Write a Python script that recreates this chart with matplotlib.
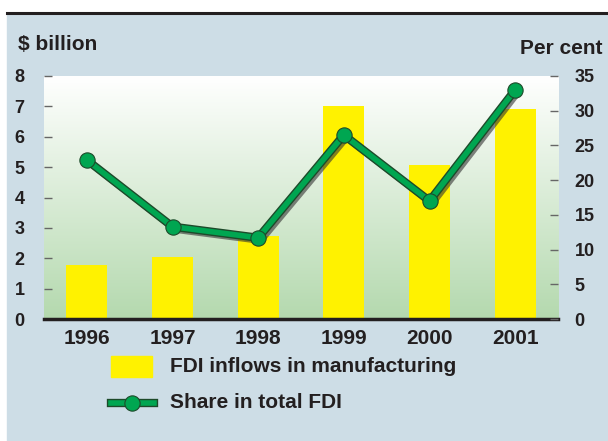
import numpy as np
import matplotlib.pyplot as plt
import matplotlib.patheffects as pe
from matplotlib.patches import Rectangle
from matplotlib.lines import Line2D
from matplotlib.colors import LinearSegmentedColormap

# Datos
years = ['1996', '1997', '1998', '1999', '2000', '2001']
fdi_manuf = [1.78, 2.04, 2.73, 7.0, 5.07, 6.9]      # $ billion
share_total = [22.9, 13.3, 11.7, 26.5, 17.0, 33.0]   # per cent

plt.rcParams['font.family'] = ['Liberation Sans', 'DejaVu Sans']
plt.rcParams['font.weight'] = 'bold'

W, H = 608, 441
fig = plt.figure(figsize=(W / 100, H / 100), dpi=100, facecolor='white')

bg = '#cddde6'
dark = '#231f20'
green = '#00a651'
edge = '#1d4a2a'
fig.patches.append(Rectangle((7 / W, 0), 1 - 7 / W, 1 - 14 / H,
                             transform=fig.transFigure, color=bg, zorder=-5))
fig.lines.append(Line2D([7 / W, 1], [1 - 13 / H, 1 - 13 / H],
                        transform=fig.transFigure, color=dark, lw=2.2))

ax = fig.add_axes([44 / W, 1 - 319 / H, 514 / W, 243 / H])
ax.set_xlim(-0.5, 5.5)
ax.set_ylim(0, 8)
ax.patch.set_alpha(0)

# degradado blanco -> verde
grad = np.linspace(0, 1, 256).reshape(-1, 1)
cmap = LinearSegmentedColormap.from_list('g', ['#b4d9ae', '#ffffff'])
ax.imshow(grad, extent=[-0.5, 5.5, 0, 8], origin='lower', aspect='auto',
          cmap=cmap, zorder=0)

x = np.arange(len(years))
ax.bar(x, fdi_manuf, width=0.48, color='#fff200', zorder=2)

for s in ['top', 'left', 'right']:
    ax.spines[s].set_visible(False)
ax.spines['bottom'].set_color(dark)
ax.spines['bottom'].set_linewidth(2.5)
ax.spines['bottom'].set_zorder(5)

ax.set_xticks(x)
ax.set_xticklabels(years, fontsize=15, fontweight='bold', color=dark)
ax.tick_params(axis='x', length=0, pad=7)
ax.set_yticks(range(0, 9))
ax.tick_params(axis='y', direction='in', length=6, width=1, color='#666666',
               labelsize=13, labelcolor=dark, pad=14)

ax2 = ax.twinx()
ax2.set_ylim(0, 35)
for s in ax2.spines.values():
    s.set_visible(False)
ax2.set_yticks(range(0, 36, 5))
ax2.tick_params(axis='y', direction='in', length=6, width=1, color='#666666',
                labelsize=13, labelcolor=dark, pad=12)

shadow = pe.SimpleLineShadow(offset=(2, -2.5), shadow_color='#333333', alpha=0.6)
ax2.plot(x, share_total, color=green, lw=4, zorder=4,
         path_effects=[shadow, pe.Stroke(linewidth=6, foreground=edge), pe.Normal()])
ax2.plot(x, share_total, ls='none', marker='o', markersize=11,
         markerfacecolor=green, markeredgecolor=edge, markeredgewidth=0.8,
         zorder=5)

fig.text(18 / W, 1 - 45 / H, '$ billion', fontsize=15, fontweight='bold',
         color=dark, va='center', ha='left')
fig.text(603 / W, 1 - 48 / H, 'Per cent', fontsize=15, fontweight='bold',
         color=dark, va='center', ha='right')

# leyenda
fig.patches.append(Rectangle((111 / W, 1 - 377 / H), 41 / W, 21 / H,
                             transform=fig.transFigure, color='#fff200'))
fig.text(170 / W, 1 - 366 / H, 'FDI inflows in manufacturing', fontsize=15,
         fontweight='bold', color=dark, va='center')
fig.lines.append(Line2D([111 / W, 154 / W], [1 - 403 / H, 1 - 403 / H],
                        transform=fig.transFigure, color=green, lw=4,
                        path_effects=[pe.Stroke(linewidth=6, foreground=edge),
                                      pe.Normal()]))
fig.lines.append(Line2D([132 / W], [1 - 403 / H], transform=fig.transFigure,
                        marker='o', markersize=11, color=green,
                        markeredgecolor=edge, markeredgewidth=0.8))
fig.text(170 / W, 1 - 403 / H, 'Share in total FDI', fontsize=15,
         fontweight='bold', color=dark, va='center')

fig.savefig('out.png', dpi=100, facecolor=fig.get_facecolor())
